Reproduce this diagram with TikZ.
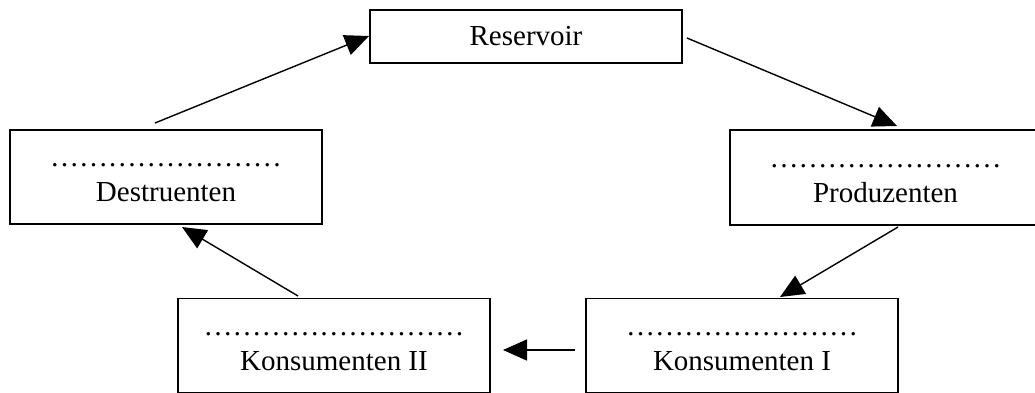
\documentclass[tikz,border=0pt]{standalone}
\usepackage{fontspec}
\setmainfont{Liberation Serif}
\usetikzlibrary{arrows.meta}
\begin{document}
\begin{tikzpicture}[x=0.5pt,y=-0.5pt,
  box/.style={draw, line width=0.9pt, rectangle, inner sep=0pt, align=center,
    font=\fontsize{14.5}{17.5}\selectfont},
  bigbox/.style={box, minimum width=156pt, minimum height=47pt},
  conn/.style={line width=0.7pt, -{Triangle[length=12pt,width=10.5pt]}}]
\useasboundingbox (0,0) rectangle (1035,392);
\clip (0,0) rectangle (1035,392);
\node[box, minimum width=156pt, minimum height=26.5pt] (res) at (526,36.5) {Reservoir};
\node[bigbox] (des) at (166,177) {\strut……………………\\\strut Destruenten};
\node[bigbox, minimum width=155.5pt, minimum height=47.5pt] (pro) at (885.5,177.5) {\strut……………………\\\strut Produzenten};
\node[bigbox] (k2) at (334,345.5) {\strut………………………\\\strut Konsumenten II};
\node[bigbox] (k1) at (742,345.5) {\strut……………………\\\strut Konsumenten I};
\coordinate (a1s) at (155,123);
\coordinate (a1e) at (369,36);
\coordinate (a2s) at (687,38);
\coordinate (a2e) at (897,126);
\coordinate (a3s) at (898,227);
\coordinate (a3e) at (780,297);
\coordinate (a4s) at (575,350);
\coordinate (a4e) at (503,350);
\coordinate (a5s) at (298,296);
\coordinate (a5e) at (182,227);
\draw[conn] (a1s) -- (a1e);
\draw[conn] (a2s) -- (a2e);
\draw[conn] (a3s) -- (a3e);
\draw[conn] (a4s) -- (a4e);
\draw[conn] (a5s) -- (a5e);
\end{tikzpicture}
\end{document}
